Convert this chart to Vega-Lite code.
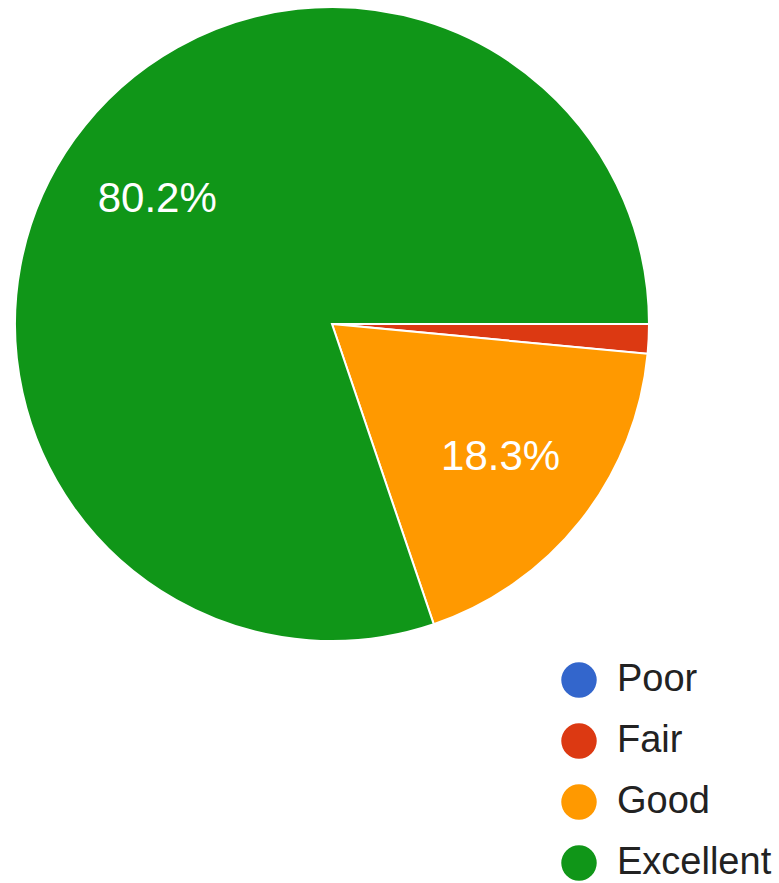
{
  "$schema": "https://vega.github.io/schema/vega-lite/v6.json",
  "width": 664,
  "height": 648,
  "autosize": "none",
  "padding": {"left": 0, "top": 0, "right": 115, "bottom": 235},
  "background": "white",
  "config": {"view": {"stroke": null}, "font": "Liberation Sans"},
  "data": {
    "values": [
      {"answer": "Poor", "idx": 1, "percent": 0.0, "label": ""},
      {"answer": "Fair", "idx": 2, "percent": 1.5, "label": ""},
      {"answer": "Good", "idx": 3, "percent": 18.3, "label": "18.3%"},
      {"answer": "Excellent", "idx": 4, "percent": 80.2, "label": "80.2%"}
    ]
  },
  "encoding": {
    "theta": {
      "field": "percent",
      "type": "quantitative",
      "stack": true,
      "scale": {"range": [1.5707963, 7.8539816]}
    },
    "order": {"field": "idx", "type": "quantitative"}
  },
  "layer": [
    {
      "mark": {"type": "arc", "radius": 317, "stroke": "white", "strokeWidth": 2},
      "encoding": {
        "color": {
          "field": "answer",
          "type": "nominal",
          "scale": {
            "domain": ["Poor", "Fair", "Good", "Excellent"],
            "range": ["#3366cc", "#dc3912", "#ff9900", "#109618"]
          },
          "legend": {
            "title": null,
            "orient": "none",
            "legendX": 560,
            "legendY": 661,
            "padding": 0,
            "symbolType": "circle",
            "symbolSize": 1257,
            "symbolStrokeWidth": 0,
            "symbolOpacity": 1,
            "labelFontSize": 38,
            "labelColor": "#222222",
            "labelFont": "Liberation Sans",
            "labelOffset": 19,
            "rowPadding": 23,
            "labelLimit": 300
          }
        }
      }
    },
    {
      "mark": {
        "type": "text",
        "radius": 215,
        "fontSize": 42,
        "font": "Liberation Sans",
        "color": "white",
        "align": "center",
        "baseline": "middle"
      },
      "encoding": {
        "text": {"field": "label", "type": "nominal"}
      }
    }
  ]
}
